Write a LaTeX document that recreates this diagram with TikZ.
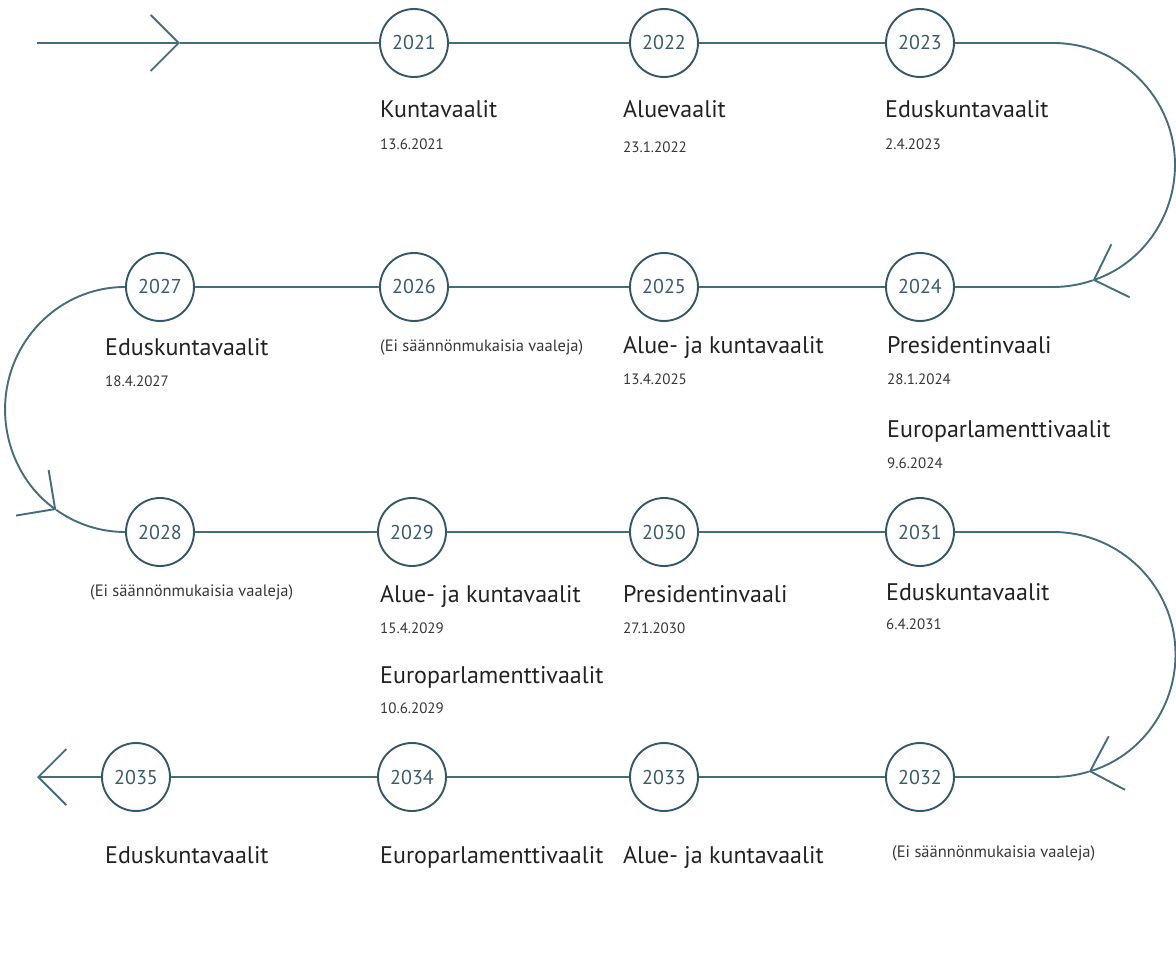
\documentclass[tikz,border=0pt]{standalone}
\usepackage{fontspec}
\setmainfont{PT Sans}
\usetikzlibrary{arrows.meta}

\definecolor{linecol}{RGB}{68,110,126}
\definecolor{circcol}{RGB}{52,88,104}
\definecolor{yearcol}{RGB}{58,92,108}
\definecolor{textcol}{RGB}{34,34,34}
\definecolor{datecol}{RGB}{55,55,55}

\tikzset{
  yearnode/.style={circle, draw=circcol, line width=1.9pt, fill=white,
    minimum size=68pt, inner sep=0pt, text=yearcol,
    font=\fontsize{20}{24}\selectfont},
  tline/.style={draw=linecol, line width=1.9pt},
  barb/.style={-{Straight Barb[length=28pt, width=56pt]}},
  titletext/.style={anchor=base west, inner sep=0pt, text=textcol,
    font=\fontsize{24}{28}\selectfont},
  datetext/.style={anchor=base west, inner sep=0pt, text=datecol,
    font=\fontsize{15}{18}\selectfont},
  notetext/.style={anchor=base west, inner sep=0pt, text=datecol,
    font=\fontsize{16.5}{19}\selectfont},
}

\begin{document}
\begin{tikzpicture}[x=1pt, y=-1pt]
    % Page frame
    \fill[white] (0,0) rectangle (1176,973);
    \useasboundingbox (0,0) rectangle (1176,973);

    % Year circles, row 1
    \node[yearnode] (y2021) at (414,43) {2021};
    \node[yearnode] (y2022) at (664,43) {2022};
    \node[yearnode] (y2023) at (920,43) {2023};
    % Year circles, row 2
    \node[yearnode] (y2024) at (920,287) {2024};
    \node[yearnode] (y2025) at (664,287) {2025};
    \node[yearnode] (y2026) at (414,287) {2026};
    \node[yearnode] (y2027) at (160,287) {2027};
    % Year circles, row 3
    \node[yearnode] (y2028) at (160,532) {2028};
    \node[yearnode] (y2029) at (412,532) {2029};
    \node[yearnode] (y2030) at (664,532) {2030};
    \node[yearnode] (y2031) at (920,532) {2031};
    % Year circles, row 4
    \node[yearnode] (y2032) at (920,777) {2032};
    \node[yearnode] (y2033) at (664,777) {2033};
    \node[yearnode] (y2034) at (412,777) {2034};
    \node[yearnode] (y2035) at (136,777) {2035};

    % Start and end of the timeline
    \coordinate (start) at (37,43);
    \coordinate (tipS) at (180,43);
    \coordinate (finish) at (37,777);

    % Row 1
    \draw[tline, barb] (start) -- (tipS);
    \draw[tline] (tipS) -- (y2021) (y2021) -- (y2022) (y2022) -- (y2023);
    % Turn right, row 1 to row 2
    \draw[tline, barb] (y2023.east) -- (1053,43)
        arc[start angle=-90, end angle=71, radius=122] coordinate (tipA);
    \draw[tline] (tipA) arc[start angle=71, end angle=90, radius=122] -- (y2024.east);
    % Row 2
    \draw[tline] (y2024) -- (y2025) (y2025) -- (y2026) (y2026) -- (y2027);
    % Turn left, row 2 to row 3
    \draw[tline, barb] (y2027.west)
        arc[start angle=270, end angle=125, x radius=120, y radius=122.5] coordinate (tipB);
    \draw[tline] (tipB) arc[start angle=125, end angle=90, x radius=120, y radius=122.5];
    % Row 3
    \draw[tline] (y2028) -- (y2029) (y2029) -- (y2030) (y2030) -- (y2031);
    % Turn right, row 3 to row 4
    \draw[tline, barb] (y2031.east) -- (1053,532)
        arc[start angle=-90, end angle=73, radius=122.5] coordinate (tipC);
    \draw[tline] (tipC) arc[start angle=73, end angle=90, radius=122.5] -- (y2032.east);
    % Row 4
    \draw[tline] (y2032) -- (y2033) (y2033) -- (y2034) (y2034) -- (y2035);
    \draw[tline, barb] (y2035) -- (finish);

    % Elections, row 1
    \node[titletext] (t2021) at (380,118) {Kuntavaalit};
    \node[datetext] (d2021) at (380,150) {13.6.2021};
    \node[titletext] (t2022) at (623,118) {Aluevaalit};
    \node[datetext] (d2022) at (623,153) {23.1.2022};
    \node[titletext] (t2023) at (885,118) {Eduskuntavaalit};
    \node[datetext] (d2023) at (885,150) {2.4.2023};

    % Elections, row 2
    \node[titletext] (t2027) at (105,356) {Eduskuntavaalit};
    \node[datetext] (d2027) at (105,387) {18.4.2027};
    \node[notetext] (t2026) at (380,352) {(Ei säännönmukaisia vaaleja)};
    \node[titletext] (t2025) at (623,354) {Alue- ja kuntavaalit};
    \node[datetext] (d2025) at (623,385) {13.4.2025};
    \node[titletext] (t2024) at (887,354) {Presidentinvaali};
    \node[datetext] (d2024) at (887,385) {28.1.2024};
    \node[titletext] (e2024) at (887,438) {Europarlamenttivaalit};
    \node[datetext] (f2024) at (887,469) {9.6.2024};

    % Elections, row 3
    \node[notetext] (t2028) at (90,596) {(Ei säännönmukaisia vaaleja)};
    \node[titletext] (t2029) at (380,602) {Alue- ja kuntavaalit};
    \node[datetext] (d2029) at (380,633) {15.4.2029};
    \node[titletext] (e2029) at (380,683) {Europarlamenttivaalit};
    \node[datetext] (f2029) at (380,713) {10.6.2029};
    \node[titletext] (t2030) at (623,602) {Presidentinvaali};
    \node[datetext] (d2030) at (623,633) {27.1.2030};
    \node[titletext] (t2031) at (886,600) {Eduskuntavaalit};
    \node[datetext] (d2031) at (886,629) {6.4.2031};

    % Elections, row 4
    \node[titletext] (t2035) at (105,863) {Eduskuntavaalit};
    \node[titletext] (t2034) at (380,863) {Europarlamenttivaalit};
    \node[titletext] (t2033) at (623,863) {Alue- ja kuntavaalit};
    \node[notetext] (t2032) at (892,857) {(Ei säännönmukaisia vaaleja)};
\end{tikzpicture}
\end{document}
